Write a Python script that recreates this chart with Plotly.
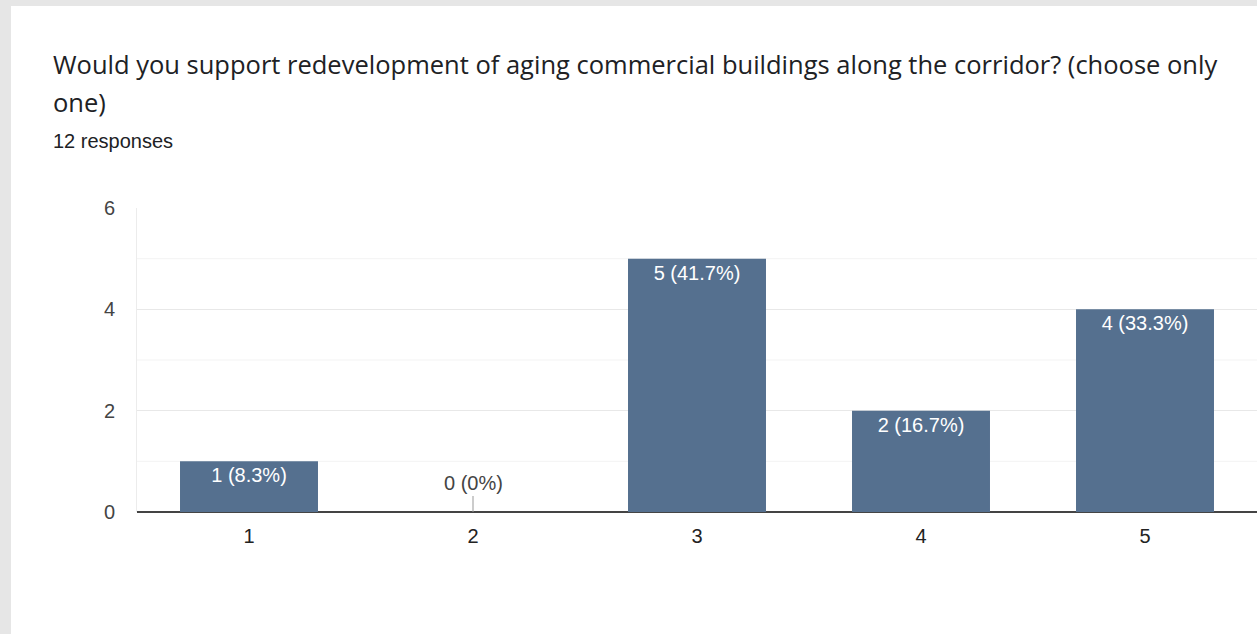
import plotly.graph_objects as go

categories = [1, 2, 3, 4, 5]
counts = [1, 0, 5, 2, 4]
percents = ["8.3%", "0%", "41.7%", "16.7%", "33.3%"]
y_ticks = [0, 2, 4, 6]
title_line1 = "Would you support redevelopment of aging commercial buildings along the corridor? (choose only"
title_line2 = "one)"
subtitle = "12 responses"

W, H = 1257, 634
ML, MR, MT, MB = 137, 0, 208, 122
PW = W - ML - MR
PH = H - MT - MB

def px_x(px):
    return (px - ML) / PW

def px_y(py):
    return (H - MB - py) / PH

FONT = "'Liberation Sans', Arial, sans-serif"
TFONT = "'Open Sans', sans-serif"
BAR = "#55708f"

labels = [f"{c} ({p})" for c, p in zip(counts, percents)]
inside_text = [l if c > 0 else "" for l, c in zip(labels, counts)]

fig = go.Figure()
fig.add_trace(go.Bar(
    x=categories, y=counts, marker=dict(color=BAR, line=dict(width=0)),
    text=inside_text, textposition="inside", insidetextanchor="end",
    textfont=dict(color="white", size=20, family=FONT),
    textangle=0, hoverinfo="skip", cliponaxis=False,
))

# labels for zero-height bars
for c, v, l in zip(categories, counts, labels):
    if v == 0:
        fig.add_annotation(x=c, y=v, xref="x", yref="y", text=l, showarrow=True,
                           arrowhead=0, arrowwidth=1, arrowcolor="#999999",
                           ax=0, ay=-16, font=dict(size=20, color="#444444", family=FONT),
                           yanchor="bottom")

# minor gridlines at odd values
for v in [1, 3, 5]:
    fig.add_shape(type="line", xref="paper", yref="y", x0=0, x1=1, y0=v, y1=v,
                  line=dict(color="#f3f3f3", width=1), layer="below")

fig.add_annotation(x=px_x(51), y=px_y(64), xref="paper", yref="paper", text=title_line1,
                   showarrow=False, xanchor="left", yanchor="middle",
                   font=dict(size=25.5, color="#202124", family=TFONT))
fig.add_annotation(x=px_x(51), y=px_y(102), xref="paper", yref="paper", text=title_line2,
                   showarrow=False, xanchor="left", yanchor="middle",
                   font=dict(size=25.5, color="#202124", family=TFONT))
fig.add_annotation(x=px_x(51), y=px_y(141), xref="paper", yref="paper", text=subtitle,
                   showarrow=False, xanchor="left", yanchor="middle",
                   font=dict(size=20, color="#202124", family=FONT))

# grey page frame
fig.add_shape(type="rect", xref="paper", yref="paper", x0=px_x(0), x1=px_x(11),
              y0=px_y(H), y1=px_y(0), fillcolor="#e6e6e6", line=dict(width=0), layer="above")
fig.add_shape(type="rect", xref="paper", yref="paper", x0=px_x(0), x1=px_x(W),
              y0=px_y(6), y1=px_y(0), fillcolor="#e6e6e6", line=dict(width=0), layer="above")

fig.update_layout(
    width=W, height=H,
    margin=dict(l=ML, r=MR, t=MT, b=MB, autoexpand=False),
    paper_bgcolor="white", plot_bgcolor="white",
    showlegend=False, bargap=0.384,
    font=dict(family=FONT),
    xaxis=dict(range=[0.5, 5.5], tickvals=categories, ticktext=[str(c) for c in categories],
               showgrid=False, zeroline=False, showline=False, ticks="",
               tickfont=dict(size=20, color="#222222", family=FONT), ticklabelstandoff=10),
    yaxis=dict(range=[0, 6], tickvals=y_ticks, showgrid=True, gridcolor="#e8e8e8", gridwidth=1,
               zeroline=True, zerolinecolor="#444444", zerolinewidth=2,
               showline=True, linecolor="#ececec", linewidth=1, ticks="",
               tickfont=dict(size=20, color="#444444", family=FONT), ticklabelstandoff=17),
)

fig.write_html("out.html", config={"displayModeBar": False},
               post_script="document.body.style.margin='0';document.body.style.overflow='hidden';")
